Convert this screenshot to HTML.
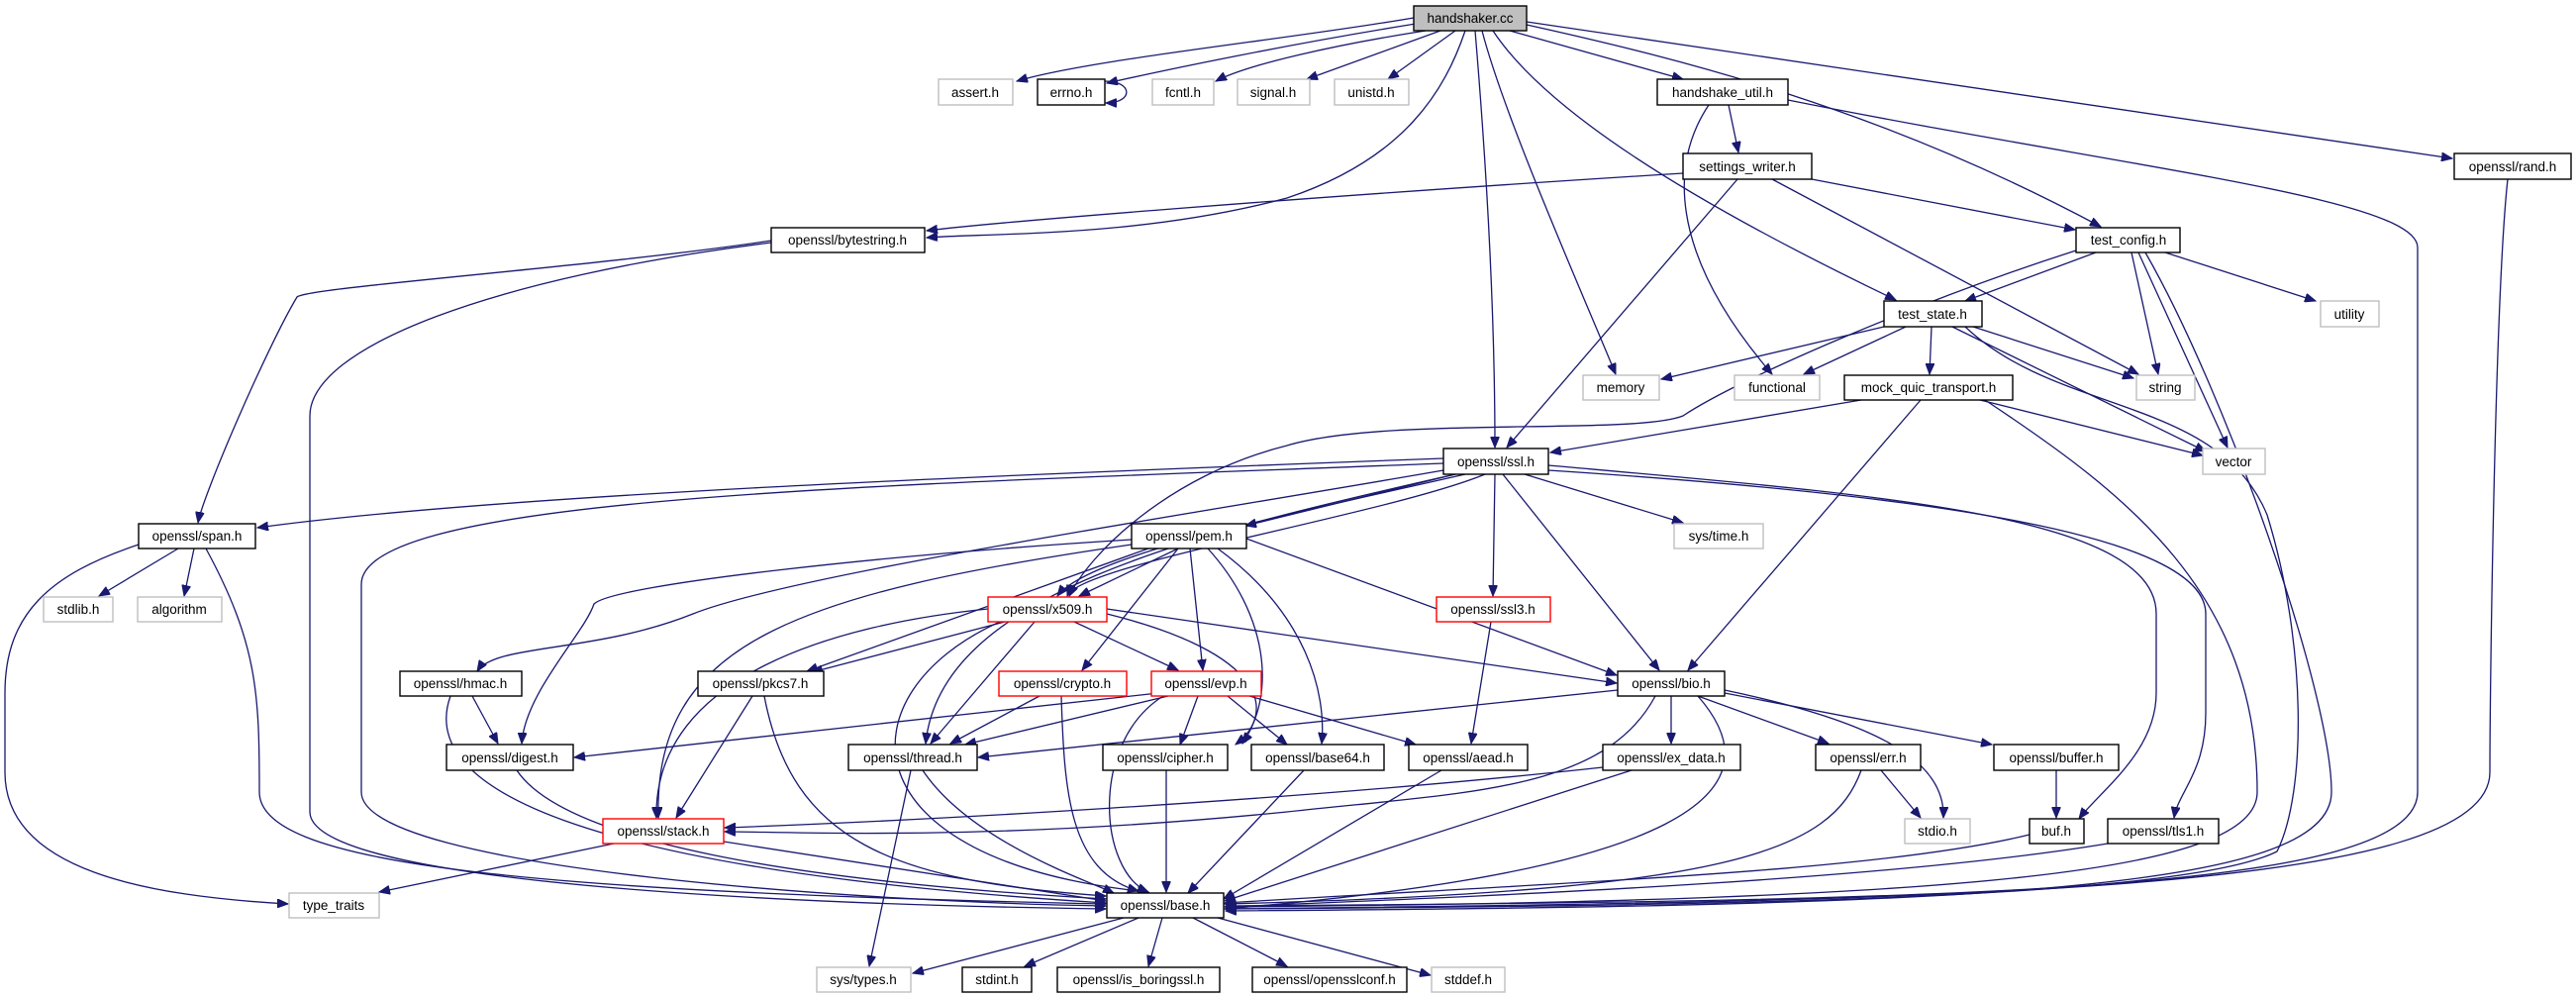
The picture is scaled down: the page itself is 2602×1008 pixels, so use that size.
<!DOCTYPE html>
<html><head><meta charset="utf-8"><style>
html,body{margin:0;padding:0;background:#fff;}
svg{display:block;}
text{font-family:"Liberation Sans",sans-serif;font-size:13.5px;fill:#000;text-anchor:middle;}
.e{fill:none;stroke:#191970;stroke-width:1.3;marker-end:url(#a);}
.b{fill:#fff;stroke:#000;stroke-width:1.4;}
.g{fill:#fff;stroke:#bfbfbf;stroke-width:1.4;}
.r{fill:#fff;stroke:#ff0000;stroke-width:1.4;}
</style></head><body>
<svg width="2602" height="1008" viewBox="0 0 2602 1008" xmlns="http://www.w3.org/2000/svg">
<defs><marker id="a" markerUnits="userSpaceOnUse" markerWidth="12" markerHeight="9" refX="11" refY="4.5" orient="auto"><path d="M0,0 L11,4.5 L0,9 z" fill="#191970" stroke="#191970"/></marker></defs>
<g>
<path class="e" d="M1428,18 C1300,40 1100,60 1027,82"/>
<path class="e" d="M1430,24 C1300,45 1180,70 1118,84"/>
<path class="e" d="M1440,31 C1350,45 1260,65 1228,82"/>
<path class="e" d="M1455,31 L1320,80"/>
<path class="e" d="M1470,31 L1402,80"/>
<path class="e" d="M1480,31 C1460,90 1420,160 1300,200 C1150,240 1000,235 936,240"/>
<path class="e" d="M1525,31 L1700,80"/>
<path class="e" d="M1497,31 C1520,120 1600,300 1632,378"/>
<path class="e" d="M1490,31 C1500,150 1510,300 1510,452"/>
<path class="e" d="M1508,31 C1560,110 1700,200 1915,303"/>
<path class="e" d="M1542,25 C1700,60 1900,110 2122,229"/>
<path class="e" d="M1542,22 L2477,160"/>
<path class="e" d="M1116,82 C1145,82 1145,104 1117,104"/>
<path class="e" d="M1746,106 L1756,154"/>
<path class="e" d="M1726,106 C1690,160 1680,250 1790,378"/>
<path class="e" d="M1806,101 C2150,170 2442,200 2442,250 L2442,800 C2442,900 2000,910 1238,915"/>
<path class="e" d="M1700,175 C1300,200 1000,225 936,233"/>
<path class="e" d="M1830,181 L2096,232"/>
<path class="e" d="M1790,181 L2160,378"/>
<path class="e" d="M1755,181 L1522,452"/>
<path class="e" d="M2533,181 C2520,300 2515,700 2515,780 C2515,900 2000,910 1238,918"/>
<path class="e" d="M2117,255 L1985,304"/>
<path class="e" d="M2187,255 L2339,304"/>
<path class="e" d="M2153,255 L2180,378"/>
<path class="e" d="M2160,255 L2250,452"/>
<path class="e" d="M2097,253 C1950,300 1760,380 1700,420 C1650,440 1400,420 1300,450 C1180,480 1100,560 1080,602"/>
<path class="e" d="M2167,255 C2250,400 2355,700 2355,800 C2355,900 2000,915 1238,920"/>
<path class="e" d="M1903,330 L1678,383"/>
<path class="e" d="M1925,330 L1822,378"/>
<path class="e" d="M1951,330 L1949,378"/>
<path class="e" d="M1993,330 L2155,382"/>
<path class="e" d="M1972,330 L2228,456"/>
<path class="e" d="M1985,330 C2080,420 2240,400 2290,520 C2330,650 2330,800 2300,860 C2200,910 1700,915 1238,918"/>
<path class="e" d="M1880,404 L1566,457"/>
<path class="e" d="M1940,404 L1705,677"/>
<path class="e" d="M2000,404 L2225,460"/>
<path class="e" d="M2005,404 C2150,500 2280,600 2280,800 C2280,880 2000,910 1238,916"/>
<path class="e" d="M1458,463 C1000,480 500,500 260,533"/>
<path class="e" d="M779,245 C500,280 313,350 313,420 L313,820 C313,900 900,915 1117,918"/>
<path class="e" d="M779,243 C600,270 310,290 300,300 C270,350 205,500 200,528"/>
<path class="e" d="M1458,468 C900,490 365,500 365,590 L365,800 C365,880 900,912 1117,915"/>
<path class="e" d="M1458,475 C1200,520 800,580 700,620 C600,660 500,650 482,678"/>
<path class="e" d="M1480,479 C1300,520 1100,560 1068,602"/>
<path class="e" d="M1500,479 C1400,520 1090,570 1078,602"/>
<path class="e" d="M1470,479 L1258,531"/>
<path class="e" d="M1470,479 C1200,540 950,600 935,751"/>
<path class="e" d="M1510,479 L1508,602"/>
<path class="e" d="M1518,479 L1676,677"/>
<path class="e" d="M1540,479 L1700,528"/>
<path class="e" d="M1564,470 C1900,500 2178,520 2178,620 L2178,700 C2178,760 2120,800 2100,827"/>
<path class="e" d="M1564,475 C1950,500 2228,540 2228,620 L2228,720 C2228,780 2200,800 2196,826"/>
<path class="e" d="M1190,554 L1090,602"/>
<path class="e" d="M1143,545 C900,560 620,590 600,610 C590,640 530,700 527,751"/>
<path class="e" d="M1143,550 C800,600 660,650 665,826"/>
<path class="e" d="M1160,554 L815,678"/>
<path class="e" d="M1190,554 L1093,677"/>
<path class="e" d="M1202,554 L1215,677"/>
<path class="e" d="M1220,554 C1280,620 1290,700 1255,751"/>
<path class="e" d="M1230,554 C1320,620 1340,700 1335,751"/>
<path class="e" d="M1259,544 L1633,682"/>
<path class="e" d="M1015,628 L820,679"/>
<path class="e" d="M998,615 C850,630 660,680 663,826"/>
<path class="e" d="M1045,628 L940,751"/>
<path class="e" d="M1010,628 C850,700 850,870 1160,901"/>
<path class="e" d="M1085,628 L1190,677"/>
<path class="e" d="M1118,615 L1633,690"/>
<path class="e" d="M1118,620 C1280,660 1290,720 1248,752"/>
<path class="e" d="M477,703 L503,751"/>
<path class="e" d="M455,703 C420,800 600,880 1117,912"/>
<path class="e" d="M760,703 L683,826"/>
<path class="e" d="M772,703 C800,850 900,890 1117,905"/>
<path class="e" d="M1050,703 L960,751"/>
<path class="e" d="M1072,703 C1075,800 1080,880 1150,900"/>
<path class="e" d="M1170,700 L580,765"/>
<path class="e" d="M1180,703 L975,752"/>
<path class="e" d="M1175,703 C1100,750 1110,880 1160,901"/>
<path class="e" d="M1210,703 L1192,752"/>
<path class="e" d="M1240,703 L1300,752"/>
<path class="e" d="M1262,703 L1430,752"/>
<path class="e" d="M920,778 L878,976"/>
<path class="e" d="M932,778 C980,850 1100,890 1125,902"/>
<path class="e" d="M522,778 C570,850 800,890 1117,908"/>
<path class="e" d="M1178,778 L1178,901"/>
<path class="e" d="M1317,778 L1200,902"/>
<path class="e" d="M1456,778 L1236,908"/>
<path class="e" d="M620,852 L383,901"/>
<path class="e" d="M731,850 L1117,910"/>
<path class="e" d="M1634,697 L988,765"/>
<path class="e" d="M1672,703 C1620,800 1480,800 1300,820 C1000,850 800,840 732,840"/>
<path class="e" d="M1688,703 L1688,751"/>
<path class="e" d="M1715,703 L1847,751"/>
<path class="e" d="M1742,700 L2012,752"/>
<path class="e" d="M1742,697 C1900,730 1965,770 1963,826"/>
<path class="e" d="M1715,703 C1800,800 1700,880 1237,918"/>
<path class="e" d="M1619,775 C1300,810 900,830 732,836"/>
<path class="e" d="M1648,778 L1237,910"/>
<path class="e" d="M1900,778 L1940,826"/>
<path class="e" d="M1880,778 C1850,860 1750,900 1237,913"/>
<path class="e" d="M2077,778 L2077,826"/>
<path class="e" d="M2050,843 C1900,880 1600,890 1237,912"/>
<path class="e" d="M2129,852 C1900,890 1500,905 1237,916"/>
<path class="e" d="M1506,628 L1486,751"/>
<path class="e" d="M180,554 L100,602"/>
<path class="e" d="M196,554 L186,602"/>
<path class="e" d="M140,550 C50,580 5,620 5,700 L5,780 C5,880 150,905 291,913"/>
<path class="e" d="M208,554 C260,650 262,700 262,800 C262,870 500,900 1117,913"/>
<path class="e" d="M1135,927 L922,983"/>
<path class="e" d="M1150,927 L1035,976"/>
<path class="e" d="M1174,927 L1160,976"/>
<path class="e" d="M1205,927 L1300,976"/>
<path class="e" d="M1230,927 L1445,985"/>
</g>
<g>
<rect x="1428" y="6" width="114" height="25" fill="#bfbfbf" stroke="#000" stroke-width="1.4"/><text x="1485" y="23">handshaker.cc</text>
<rect class="g" x="948" y="80" width="75" height="26"/><text x="985" y="98">assert.h</text>
<rect class="b" x="1048" y="80" width="68" height="26"/><text x="1082" y="98">errno.h</text>
<rect class="g" x="1164" y="80" width="62" height="26"/><text x="1195" y="98">fcntl.h</text>
<rect class="g" x="1250" y="80" width="73" height="26"/><text x="1286" y="98">signal.h</text>
<rect class="g" x="1348" y="80" width="75" height="26"/><text x="1385" y="98">unistd.h</text>
<rect class="b" x="1674" y="80" width="132" height="26"/><text x="1740" y="98">handshake_util.h</text>
<rect class="b" x="779" y="230" width="155" height="25"/><text x="856" y="247">openssl/bytestring.h</text>
<rect class="b" x="1700" y="155" width="130" height="26"/><text x="1765" y="173">settings_writer.h</text>
<rect class="b" x="2479" y="155" width="118" height="26"/><text x="2538" y="173">openssl/rand.h</text>
<rect class="b" x="2097" y="230" width="105" height="25"/><text x="2150" y="247">test_config.h</text>
<rect class="b" x="1903" y="304" width="99" height="26"/><text x="1952" y="322">test_state.h</text>
<rect class="g" x="2344" y="304" width="59" height="26"/><text x="2373" y="322">utility</text>
<rect class="g" x="1599" y="379" width="77" height="25"/><text x="1637" y="396">memory</text>
<rect class="g" x="1752" y="379" width="86" height="25"/><text x="1795" y="396">functional</text>
<rect class="b" x="1863" y="379" width="170" height="25"/><text x="1948" y="396">mock_quic_transport.h</text>
<rect class="g" x="2158" y="379" width="59" height="25"/><text x="2187" y="396">string</text>
<rect class="b" x="1458" y="453" width="106" height="26"/><text x="1511" y="471">openssl/ssl.h</text>
<rect class="g" x="2225" y="453" width="63" height="26"/><text x="2256" y="471">vector</text>
<rect class="b" x="140" y="529" width="118" height="25"/><text x="199" y="546">openssl/span.h</text>
<rect class="g" x="44" y="603" width="70" height="25"/><text x="79" y="620">stdlib.h</text>
<rect class="g" x="139" y="603" width="85" height="25"/><text x="181" y="620">algorithm</text>
<rect class="b" x="1143" y="529" width="116" height="25"/><text x="1201" y="546">openssl/pem.h</text>
<rect class="g" x="1691" y="529" width="90" height="25"/><text x="1736" y="546">sys/time.h</text>
<rect class="r" x="998" y="603" width="120" height="25"/><text x="1058" y="620">openssl/x509.h</text>
<rect class="r" x="1451" y="603" width="115" height="25"/><text x="1508" y="620">openssl/ssl3.h</text>
<rect class="b" x="404" y="678" width="123" height="25"/><text x="465" y="695">openssl/hmac.h</text>
<rect class="b" x="705" y="678" width="127" height="25"/><text x="768" y="695">openssl/pkcs7.h</text>
<rect class="r" x="1009" y="678" width="129" height="25"/><text x="1073" y="695">openssl/crypto.h</text>
<rect class="r" x="1163" y="678" width="111" height="25"/><text x="1218" y="695">openssl/evp.h</text>
<rect class="b" x="1634" y="678" width="108" height="25"/><text x="1688" y="695">openssl/bio.h</text>
<rect class="b" x="451" y="752" width="128" height="26"/><text x="515" y="770">openssl/digest.h</text>
<rect class="b" x="857" y="752" width="130" height="26"/><text x="922" y="770">openssl/thread.h</text>
<rect class="b" x="1114" y="752" width="126" height="26"/><text x="1177" y="770">openssl/cipher.h</text>
<rect class="b" x="1264" y="752" width="134" height="26"/><text x="1331" y="770">openssl/base64.h</text>
<rect class="b" x="1423" y="752" width="120" height="26"/><text x="1483" y="770">openssl/aead.h</text>
<rect class="b" x="1619" y="752" width="139" height="26"/><text x="1688" y="770">openssl/ex_data.h</text>
<rect class="b" x="1834" y="752" width="106" height="26"/><text x="1887" y="770">openssl/err.h</text>
<rect class="b" x="2014" y="752" width="126" height="26"/><text x="2077" y="770">openssl/buffer.h</text>
<rect class="r" x="609" y="827" width="122" height="25"/><text x="670" y="844">openssl/stack.h</text>
<rect class="g" x="1924" y="827" width="66" height="25"/><text x="1957" y="844">stdio.h</text>
<rect class="b" x="2050" y="827" width="55" height="25"/><text x="2077" y="844">buf.h</text>
<rect class="b" x="2129" y="827" width="112" height="25"/><text x="2185" y="844">openssl/tls1.h</text>
<rect class="g" x="292" y="902" width="91" height="25"/><text x="337" y="919">type_traits</text>
<rect class="b" x="1118" y="902" width="118" height="25"/><text x="1177" y="919">openssl/base.h</text>
<rect class="g" x="825" y="977" width="95" height="25"/><text x="872" y="994">sys/types.h</text>
<rect class="b" x="972" y="977" width="70" height="25"/><text x="1007" y="994">stdint.h</text>
<rect class="b" x="1068" y="977" width="164" height="25"/><text x="1150" y="994">openssl/is_boringssl.h</text>
<rect class="b" x="1265" y="977" width="156" height="25"/><text x="1343" y="994">openssl/opensslconf.h</text>
<rect class="g" x="1446" y="977" width="74" height="25"/><text x="1483" y="994">stddef.h</text>
</g>
</svg>
</body></html>
